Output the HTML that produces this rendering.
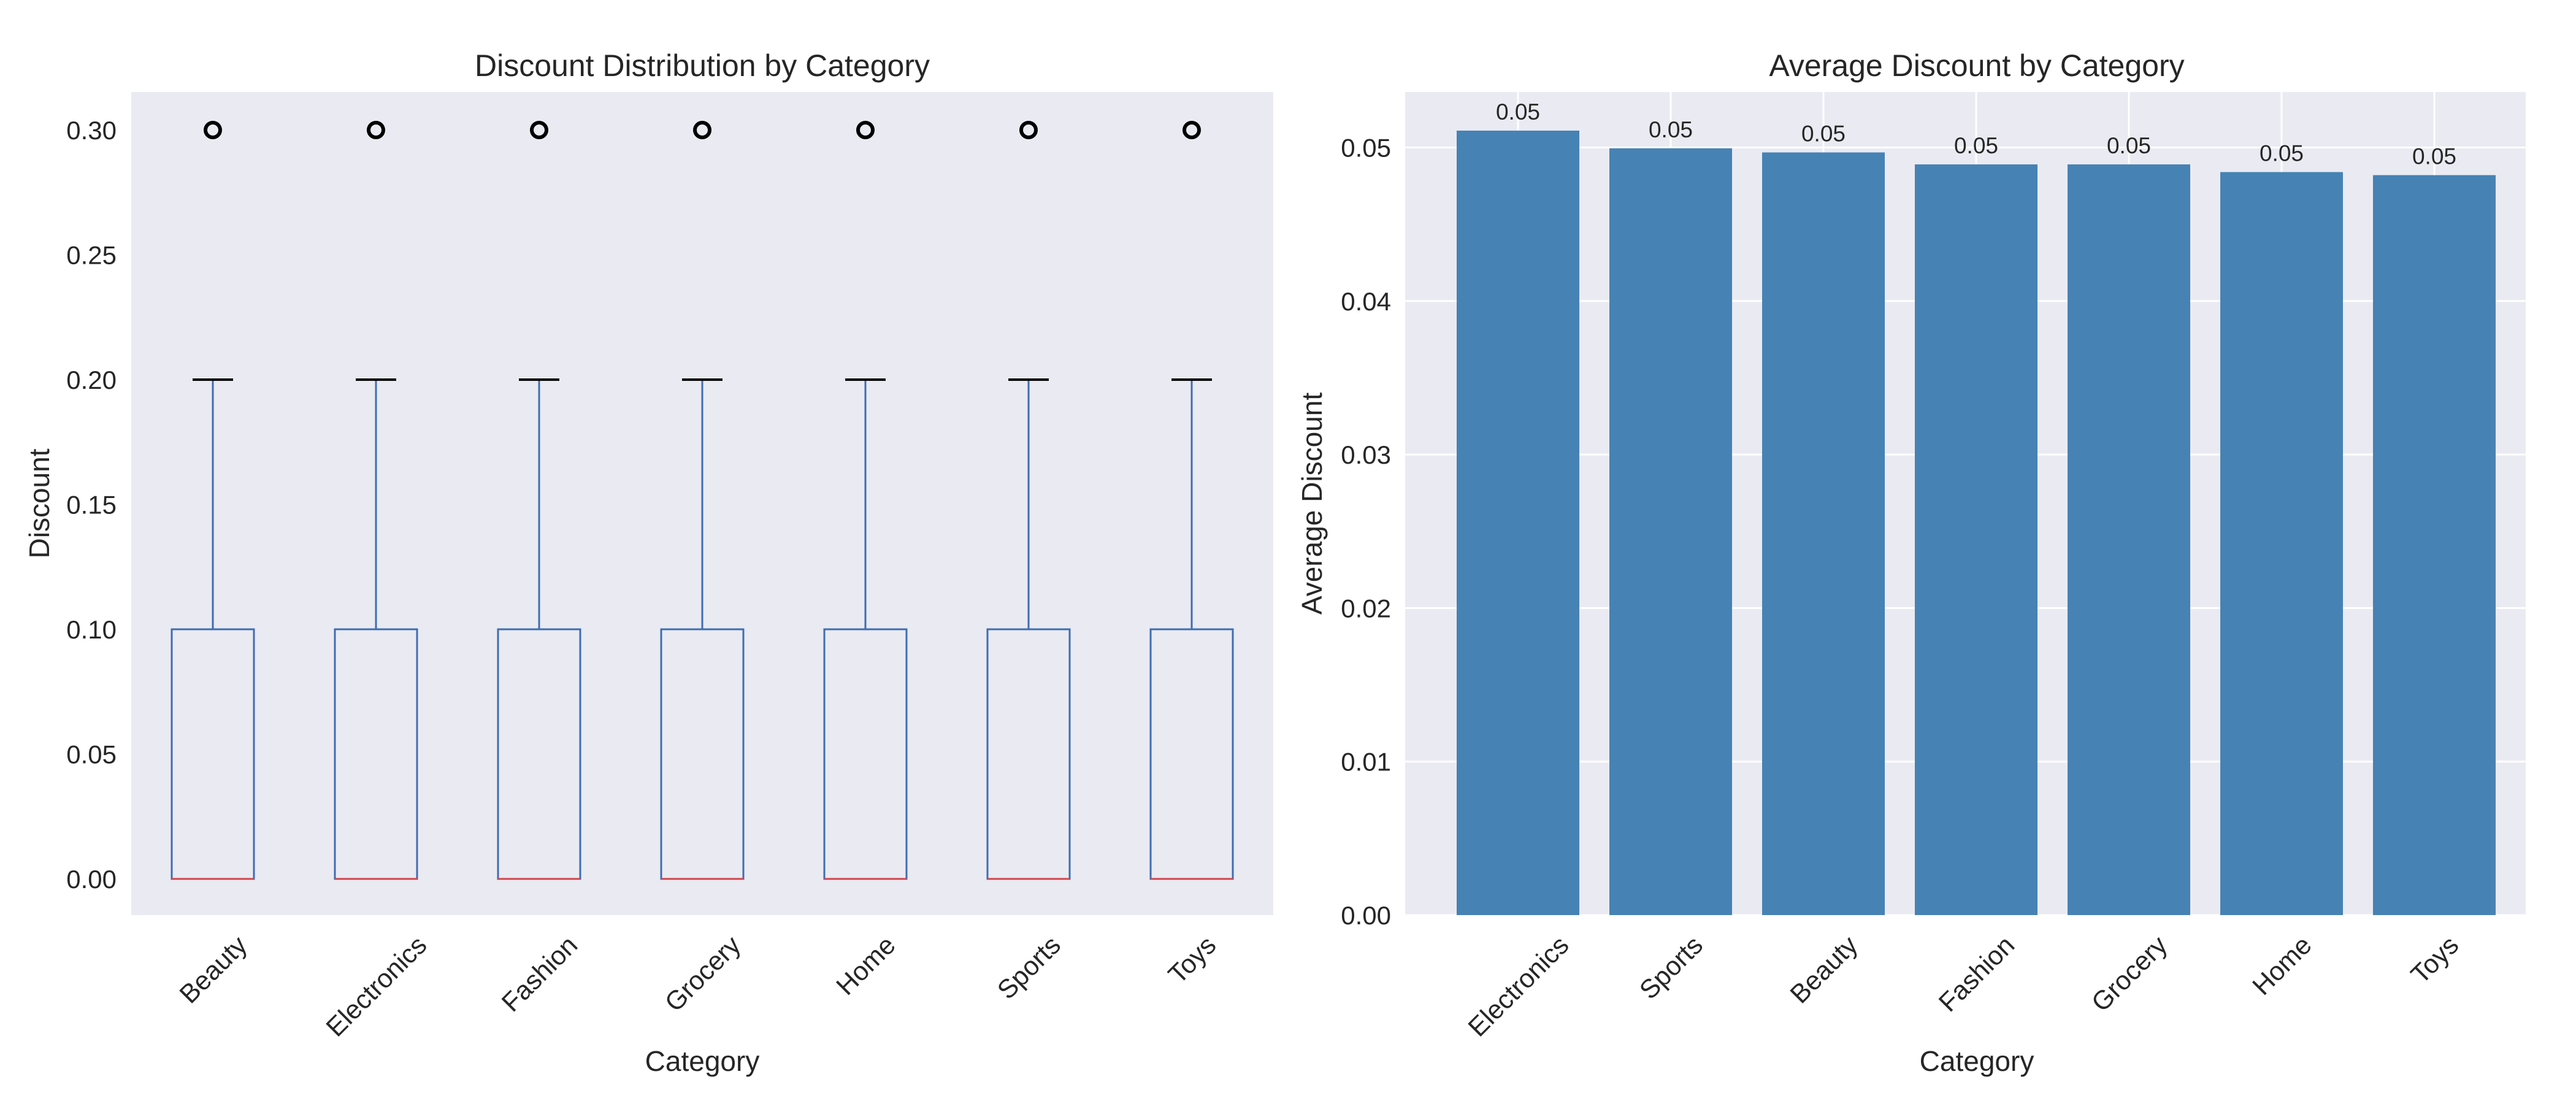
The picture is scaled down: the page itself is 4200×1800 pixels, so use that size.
<!DOCTYPE html>
<html><head><meta charset="utf-8">
<style>
html,body{margin:0;padding:0;background:#fff;}
svg{display:block;font-family:"Liberation Sans",sans-serif;}
</style></head>
<body>
<svg id="chart" width="4200" height="1800" viewBox="0 0 4200 1800" xmlns="http://www.w3.org/2000/svg">
  <rect x="0" y="0" width="4200" height="1800" fill="#ffffff"/>
  <g id="left">
    <rect x="214" y="150" width="1862" height="1342" fill="#eaeaf2"/>
    <text x="1145" y="124" font-size="50" text-anchor="middle" fill="#262626">Discount Distribution by Category</text>
    <text x="1145" y="1746" font-size="46" text-anchor="middle" fill="#262626">Category</text>
    <text transform="translate(80,821) rotate(-90)" font-size="46" text-anchor="middle" fill="#262626">Discount</text>
  </g>
  <g id="right">
    <rect x="2291" y="150" width="1827" height="1342" fill="#eaeaf2"/>
    <text x="3223" y="124" font-size="50" text-anchor="middle" fill="#262626">Average Discount by Category</text>
    <text x="3223" y="1746" font-size="46" text-anchor="middle" fill="#262626">Category</text>
    <text transform="translate(2155,821) rotate(-90)" font-size="46" text-anchor="middle" fill="#262626">Average Discount</text>
  </g>
</svg>
<script>
const boxCategories = ["Beauty","Electronics","Fashion","Grocery","Home","Sports","Toys"];
const boxQ1 = [0,0,0,0,0,0,0];
const boxMedian = [0,0,0,0,0,0,0];
const boxQ3 = [0.10,0.10,0.10,0.10,0.10,0.10,0.10];
const boxWhiskerLow = [0,0,0,0,0,0,0];
const boxWhiskerHigh = [0.20,0.20,0.20,0.20,0.20,0.20,0.20];
const boxOutliers = [[0.30],[0.30],[0.30],[0.30],[0.30],[0.30],[0.30]];
const boxYTicks = [0.00,0.05,0.10,0.15,0.20,0.25,0.30];
const boxYTickLabels = ["0.00","0.05","0.10","0.15","0.20","0.25","0.30"];

const barCategories = ["Electronics","Sports","Beauty","Fashion","Grocery","Home","Toys"];
const barValues = [0.0511,0.04995,0.04968,0.0489,0.0489,0.0484,0.0482];
const barLabels = ["0.05","0.05","0.05","0.05","0.05","0.05","0.05"];
const barYTicks = [0.00,0.01,0.02,0.03,0.04,0.05];
const barYTickLabels = ["0.00","0.01","0.02","0.03","0.04","0.05"];

const NS = "http://www.w3.org/2000/svg";
function mk(tag, attrs, parent){const e=document.createElementNS(NS,tag);for(const k in attrs)e.setAttribute(k,attrs[k]);parent.appendChild(e);return e;}
// rotated tick label: bbox centered on tick, top at yTop
function rotLabel(t, cx, yTop){
  const fs=43;
  const w=t.getComputedTextLength();
  const h=fs*0.72;
  const bh=(w+h)*0.7071;
  const cy=yTop+bh/2;
  t.setAttribute('x',0);
  t.setAttribute('y',h/2);
  t.setAttribute('transform',`translate(${cx},${cy}) rotate(-45)`);
}

// left axes
const L = document.getElementById('left');
const lx0=214,lx1=2076;
const ly = v => 1433 + (212-1433)*(v/0.30);
const lband = (lx1-lx0)/boxCategories.length;
const lx = i => lx0 + lband*(i+0.5);
boxYTicks.forEach((t,i)=>{
  const tx=mk('text',{x:190,y:ly(t)+15,'font-size':42,'text-anchor':'end',fill:'#262626'},L);
  tx.textContent=boxYTickLabels[i];
  
  
});
boxCategories.forEach((c,i)=>{
  const cx=lx(i), hw=67, cw=33;
  const g=mk('g',{},L);
  
  
  mk('rect',{x:cx-hw,y:ly(boxQ3[i]),width:2*hw,height:ly(boxQ1[i])-ly(boxQ3[i]),fill:'none',stroke:'#3f6db3','stroke-width':3},g);
  mk('line',{x1:cx,x2:cx,y1:ly(boxQ3[i]),y2:ly(boxWhiskerHigh[i]),stroke:'#3f6db3','stroke-width':3},g);
  mk('line',{x1:cx,x2:cx,y1:ly(boxQ1[i]),y2:ly(boxWhiskerLow[i]),stroke:'#3f6db3','stroke-width':3},g);
  mk('line',{x1:cx-cw,x2:cx+cw,y1:ly(boxWhiskerHigh[i]),y2:ly(boxWhiskerHigh[i]),stroke:'#000','stroke-width':4},g);
  mk('line',{x1:cx-hw,x2:cx+hw,y1:ly(boxMedian[i]),y2:ly(boxMedian[i]),stroke:'#d0454a','stroke-width':3},g);
  boxOutliers[i].forEach(o=>{
    const c2=mk('circle',{cx:cx,cy:ly(o),r:12,fill:'none',stroke:'#000','stroke-width':6},g);
    
    
  });
  const t=mk('text',{'font-size':43,'text-anchor':'middle',fill:'#262626'},L);
  t.textContent=c;
  
  
  rotLabel(t,cx,1522);
});

// right axes
const R = document.getElementById('right');
const rx0=2291,rx1=4118;
const ry = v => 1492 - v*25030;
const rband = 249;
const rx = i => 2475 + rband*i;
barYTicks.forEach((t,i)=>{
  const gl=mk('line',{x1:rx0,x2:rx1,y1:ry(t),y2:ry(t),stroke:'#fff','stroke-width':3},R);
  
  
  const tx=mk('text',{x:2268,y:ry(t)+15,'font-size':42,'text-anchor':'end',fill:'#262626'},R);
  tx.textContent=barYTickLabels[i];
  
  
});
barCategories.forEach((c,i)=>{
  const gl=mk('line',{x1:rx(i),x2:rx(i),y1:150,y2:1492,stroke:'#fff','stroke-width':3},R);
  
  
});
barCategories.forEach((c,i)=>{
  const cx=rx(i), w=200;
  const b=mk('rect',{x:cx-w/2,y:ry(barValues[i]),width:w,height:ry(0)-ry(barValues[i]),fill:'#4682b4'},R);
  
  
  const lb=mk('text',{x:cx,y:ry(barValues[i])-18,'font-size':37,'text-anchor':'middle',fill:'#262626'},R);
  lb.textContent=barLabels[i];
  
  
  const t=mk('text',{'font-size':43,'text-anchor':'middle',fill:'#262626'},R);
  t.textContent=c;
  
  
  rotLabel(t,cx,1522);
});
</script>
</body></html>
